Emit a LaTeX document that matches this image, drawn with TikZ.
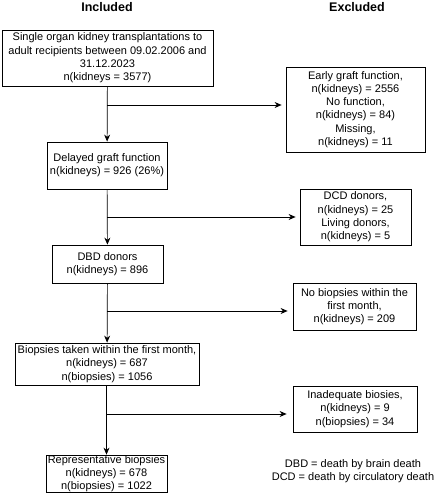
\documentclass[tikz,border=0pt]{standalone}
\usepackage{fontspec}
\setmainfont{Liberation Sans}
\usetikzlibrary{arrows.meta,positioning}

\tikzset{
  box/.style={draw,line width=0.8pt,align=center,inner sep=0pt,font=\fontsize{11}{13.3}\selectfont},
  head/.style={font=\fontsize{12.5}{14}\selectfont\bfseries},
  flow/.style={draw,line width=0.7pt,-{Stealth[length=7pt,width=6pt]}},
}

\begin{document}
\begin{tikzpicture}[x=1pt,y=-1pt]
\useasboundingbox (0,0) rectangle (437,500);
\node[head] (hIn) at (107,7) {Included};
\node[head] (hEx) at (357,7) {Excluded};
% included column
\node[box,minimum width=211pt,minimum height=56pt] (start) at (107.5,58) {Single organ kidney transplantations to\\adult recipients between 09.02.2006 and\\31.12.2023\\n(kidneys = 3577)};
\node[box,minimum width=120pt,minimum height=47pt] (dgf) at (107,165.5) {Delayed graft function\\n(kidneys) = 926 (26\%)};
\node[box,minimum width=111pt,minimum height=38pt] (dbd) at (107.5,264) {DBD donors\\n(kidneys) = 896};
\node[box,minimum width=184pt,minimum height=42pt] (biop) at (107,364) {Biopsies taken within the first month,\\n(kidneys) = 687\\n(biopsies) = 1056};
\node[box,minimum width=121pt,minimum height=37pt] (repr) at (106.5,473.5) {Representative biopsies\\n(kidneys) = 678\\n(biopsies) = 1022};
% excluded column
\node[box,minimum width=139pt,minimum height=85pt] (excA) at (355.5,109.5) {Early graft function,\\n(kidneys) = 2556\\No function,\\n(kidneys) = 84)\\Missing,\\n(kidneys) = 11};
\node[box,minimum width=111pt,minimum height=56pt] (excB) at (355.5,217) {DCD donors,\\n(kidneys) = 25\\Living donors,\\n(kidneys) = 5};
\node[box,minimum width=123pt,minimum height=47pt] (excC) at (354.5,306.5) {No biopsies within the\\first month,\\n(kidneys) = 209};
\node[box,minimum width=124pt,minimum height=46pt] (excD) at (355,409) {Inadequate biosies,\\n(kidneys) = 9\\n(biopsies) = 34};
\node[font=\fontsize{11}{13.3}\selectfont,align=center] (legend) at (353,471) {DBD = death by brain death\\DCD = death by circulatory death};
% arrows
\draw[flow] (start) -- (dgf);
\draw[flow] (dgf) -- (dbd);
\draw[flow] (dbd) -- (biop);
\draw[flow] (biop.south -| repr.north) -- (repr);
\coordinate (bA) at (107,105);
\coordinate (bB) at (107,217);
\coordinate (bC) at (107,311);
\coordinate (bD) at (107,414);
\draw[flow,shorten >=4pt] (bA) -- (bA -| excA.west);
\draw[flow,shorten >=4pt] (bB) -- (bB -| excB.west);
\draw[flow,shorten >=5pt] (bC) -- (bC -| excC.west);
\draw[flow,shorten >=6pt] (bD) -- (bD -| excD.west);
\end{tikzpicture}
\end{document}
